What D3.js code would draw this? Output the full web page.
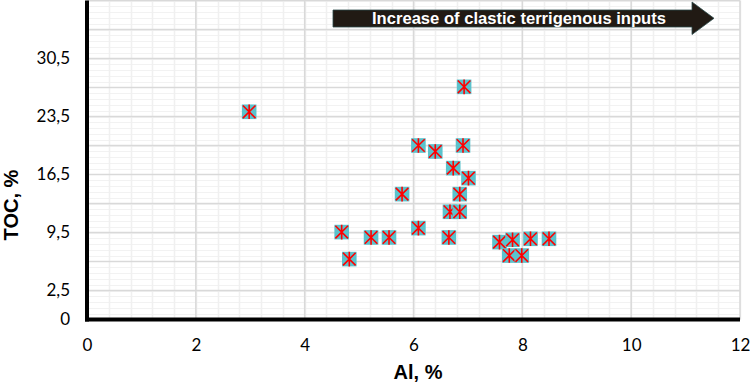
<!DOCTYPE html>
<html>
<head>
<meta charset="utf-8">
<script src="https://cdn.jsdelivr.net/npm/d3@7"></script>
<style>
  body { margin: 0; background: #fff; }
  svg { display: block; }
  .tick text { font-family: Lato, "Open Sans", sans-serif; font-size: 17px; fill: #000; }
</style>
</head>
<body>
<svg width="750" height="383"></svg>
<script>
// data
var alValues  = [2.98, 6.93, 6.09, 6.40, 6.91, 6.73, 7.01, 5.79, 6.85, 6.67, 6.85, 6.09,
                 6.65, 5.55, 5.22, 4.68, 4.82, 7.58, 7.82, 8.15, 8.49, 7.76, 7.99];
var tocValues = [24.07, 27.08, 20.0, 19.28, 20.0, 17.27, 16.06, 14.13, 14.13, 12.0, 12.0, 10.03,
                 8.9, 8.9, 8.9, 9.55, 6.29, 8.34, 8.62, 8.74, 8.74, 6.72, 6.72];
var xTicks = [0, 2, 4, 6, 8, 10, 12];
var yTicks = [-1, 2.5, 9.5, 16.5, 23.5, 30.5];
var yTickLabels = ["0", "2,5", "9,5", "16,5", "23,5", "30,5"];

var svg = d3.select("svg");

var x = d3.scaleLinear().domain([0, 12]).range([87, 740]);
var y = d3.scaleLinear().domain([-1, 37.5]).range([319.5, 0.5]);

// minor grid
var xMinor = d3.range(0, 12.001, 0.4);
var yMinor = d3.range(-1, 37.501, 0.7);
svg.append("g").selectAll("line").data(yMinor).enter().append("line")
    .attr("x1", x(0)).attr("x2", x(12))
    .attr("y1", function(d) { return Math.round(y(d)) + 0.5; })
    .attr("y2", function(d) { return Math.round(y(d)) + 0.5; })
    .attr("stroke", "#f2f2f2").attr("stroke-width", 1);
svg.append("g").selectAll("line").data(xMinor).enter().append("line")
    .attr("y1", y(-1)).attr("y2", y(37.5))
    .attr("x1", function(d) { return Math.round(x(d)) + 0.5; })
    .attr("x2", function(d) { return Math.round(x(d)) + 0.5; })
    .attr("stroke", "#f0f0f0").attr("stroke-width", 1.5);

// major grid
var yMajor = d3.range(-1, 37.501, 3.5);
svg.append("g").selectAll("line").data(yMajor).enter().append("line")
    .attr("x1", x(0)).attr("x2", x(12))
    .attr("y1", function(d) { return y(d); })
    .attr("y2", function(d) { return y(d); })
    .attr("stroke", "#d9d9d9").attr("stroke-width", 1.5);
svg.append("g").selectAll("line").data(xTicks).enter().append("line")
    .attr("y1", y(-1)).attr("y2", y(37.5))
    .attr("x1", function(d) { return x(d); })
    .attr("x2", function(d) { return x(d); })
    .attr("stroke", "#d9d9d9").attr("stroke-width", 1.5);

// axes
var xAxis = d3.axisBottom(x).tickValues(xTicks).tickSize(0).tickPadding(19);
svg.append("g").attr("transform", "translate(0," + y(-1) + ")").call(xAxis)
    .call(function(g) { g.select(".domain").remove(); });

var yAxis = d3.axisLeft(y).tickValues(yTicks).tickSize(0).tickPadding(17)
    .tickFormat(function(d, i) { return yTickLabels[i]; });
svg.append("g").attr("transform", "translate(" + x(0) + ",0)").call(yAxis)
    .call(function(g) { g.select(".domain").remove(); });

svg.append("line").attr("x1", x(0)).attr("x2", x(0))
    .attr("y1", y(37.5)).attr("y2", y(-1) + 2)
    .attr("stroke", "#000").attr("stroke-width", 4);
svg.append("line").attr("x1", x(0) - 2).attr("x2", x(12))
    .attr("y1", y(-1)).attr("y2", y(-1))
    .attr("stroke", "#000").attr("stroke-width", 4);

// axis titles
svg.append("text")
    .attr("x", 418).attr("y", 379)
    .attr("text-anchor", "middle")
    .style("font-family", "Liberation Sans, Arial, sans-serif")
    .style("font-weight", "bold").style("font-size", "20px")
    .text("Al, %");
svg.append("text")
    .attr("transform", "translate(17.5,205) rotate(-90)")
    .attr("text-anchor", "middle")
    .style("font-family", "Liberation Sans, Arial, sans-serif")
    .style("font-weight", "bold").style("font-size", "20px")
    .text("TOC, %");

// arrow
svg.append("path")
    .attr("d", "M333,10 L692,10 L692,2 L714,18.3 L692,34.5 L692,27 L333,27 Z")
    .attr("fill", "#211a14").attr("stroke", "#2b4a4a").attr("stroke-width", 0.8);
svg.append("text")
    .attr("x", 372).attr("y", 24)
    .attr("textLength", 294).attr("lengthAdjust", "spacingAndGlyphs")
    .style("font-family", "Liberation Sans, Arial, sans-serif")
    .style("font-weight", "bold").style("font-size", "16px")
    .attr("fill", "#fff")
    .text("Increase of clastic terrigenous inputs");

// points
var pts = alValues.map(function(d, i) { return { al: d, toc: tocValues[i] }; });
var s = 7.3;
var marks = svg.append("g").selectAll("g").data(pts).enter().append("g")
    .attr("transform", function(d) { return "translate(" + x(d.al) + "," + y(d.toc) + ")"; });
marks.append("rect")
    .attr("x", -s).attr("y", -s).attr("width", 2 * s).attr("height", 2 * s)
    .attr("fill", "#5bc2cc");
marks.append("path")
    .attr("d", "M" + (-s + 1) + "," + (-s + 1) + "L" + (s - 1) + "," + (s - 1) +
               "M" + (s - 1) + "," + (-s + 1) + "L" + (-s + 1) + "," + (s - 1) +
               "M0," + (-s) + "L0," + s)
    .attr("stroke", "#ff0000").attr("stroke-width", 1.6).attr("fill", "none");
</script>
</body>
</html>
